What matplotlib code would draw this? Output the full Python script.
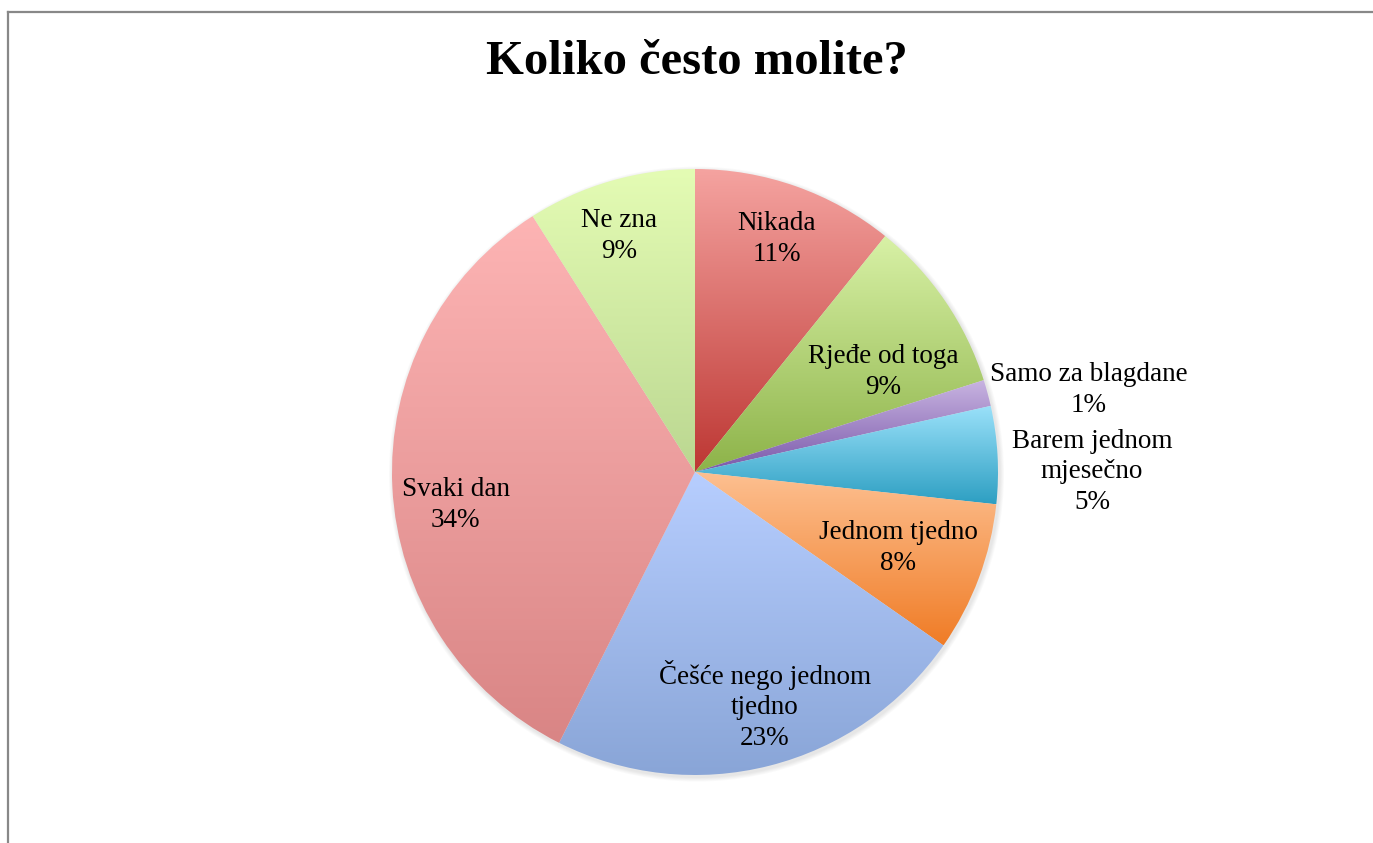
import numpy as np
import matplotlib
matplotlib.use("Agg")
import matplotlib.pyplot as plt
from matplotlib.colors import to_rgb
from matplotlib.lines import Line2D
from matplotlib.patches import Circle

plt.rcParams["font.family"] = ["Liberation Serif", "DejaVu Serif"]

# podaci (procijenjeno s grafa)
categories = ["Nikada", "Rjeđe od toga", "Samo za blagdane", "Barem jednom\nmjesečno",
              "Jednom tjedno", "Češće nego jednom\ntjedno", "Svaki dan", "Ne zna"]
values = [10.8, 9.3, 1.4, 5.2, 8.0, 22.7, 33.6, 9.0]
pct_labels = ["11%", "9%", "1%", "5%", "8%", "23%", "34%", "9%"]

# boje gradijenta: gore svjetlije, dolje tamnije
top_colors = ["#f5a3a0", "#d8f1a6", "#c8b4e1", "#9be1fa", "#fdc091", "#b7ceff", "#fdb4b4", "#e4fcb4"]
bottom_colors = ["#bd3733", "#8db349", "#7a58aa", "#2d9fc2", "#f07c26", "#89a5d7", "#d98585", "#bbd791"]

# pozicije oznaka (u jedinicama radijusa, od sredista)
label_pos = [(0.27, 0.77), (0.62, 0.33), (1.30, 0.27), (1.31, 0.00),
             (0.67, -0.25), (0.23, -0.77), (-0.79, -0.11), (-0.25, 0.78)]

W, H = 1373, 843
fig = plt.figure(figsize=(W / 100, H / 100), dpi=100)
fig.patch.set_facecolor("white")

# okvir (samo gore i lijevo)
fig.add_artist(Line2D([8 / W, 1], [1 - 12 / H, 1 - 12 / H], color="#888888", lw=1.6))
fig.add_artist(Line2D([8 / W, 8 / W], [0, 1 - 12 / H], color="#888888", lw=1.6))

cx, cy, R = 695, 472, 303
m = 1.05
ax = fig.add_axes([(cx - R * m) / W, (H - cy - R * m) / H, 2 * R * m / W, 2 * R * m / H])
ax.axis("off")

# blaga sjena oko pite
for k in range(5):
    ax.add_patch(Circle((0.005, -0.007), 1.0 + 0.003 * (k + 1), color="black",
                        alpha=0.02, lw=0, zorder=0))

wedges, _ = ax.pie(values, startangle=90, counterclock=False, radius=1,
                   wedgeprops=dict(linewidth=0))

for i, w in enumerate(wedges):
    bb = w.get_path().get_extents()
    y0, y1 = max(bb.y0, -1), min(bb.y1, 1)
    c_top = np.array(to_rgb(top_colors[i]))
    c_bot = np.array(to_rgb(bottom_colors[i]))
    t = np.linspace(0, 1, 256)[:, None]
    grad = (c_top * (1 - t) + c_bot * t)[:, None, :]
    w.set_facecolor("none")
    im = ax.imshow(grad, extent=[bb.x0, bb.x1, y0, y1], aspect="auto",
                   interpolation="bilinear", origin="upper", zorder=1)
    im.set_clip_path(w)

ax.set_xlim(-m, m)
ax.set_ylim(-m, m)

for i, name in enumerate(categories):
    x, y = label_pos[i]
    ax.text(x, y, name + "\n" + pct_labels[i], ha="center", va="center",
            fontsize=19.5, linespacing=1.3, color="black", zorder=5, clip_on=False)

fig.text(697 / W, 1 - 62 / H, "Koliko često molite?", ha="center", va="center",
         fontsize=35, fontweight="bold")

fig.savefig("out.png", dpi=100)
